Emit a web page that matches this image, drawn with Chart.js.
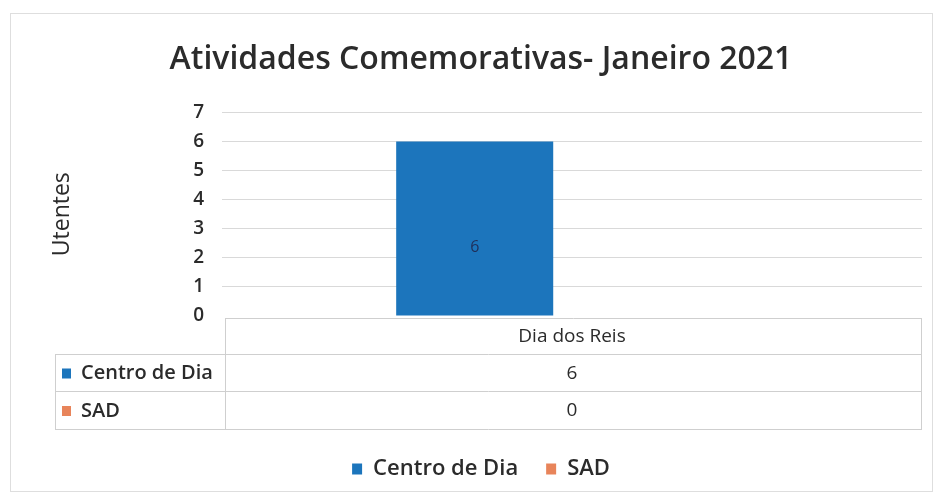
<!DOCTYPE html>
<html>
<head>
<meta charset="utf-8">
<script src="https://cdn.jsdelivr.net/npm/chart.js@4/dist/chart.umd.min.js"></script>
<style>
  html, body { margin: 0; padding: 0; background: #ffffff; }
  canvas { display: block; }
</style>
</head>
<body>
<canvas id="c" width="940" height="501"></canvas>
<script>
const chartTitle = "Atividades Comemorativas- Janeiro 2021";
const yAxisTitle = "Utentes";
const categories = ["Dia dos Reis"];
const seriesNames = ["Centro de Dia", "SAD"];
const centroDeDia = [6];
const sad = [0];
const yTicks = [0, 1, 2, 3, 4, 5, 6, 7];
const seriesColors = ["#1C75BC", "#E8845A"];

const FONT = "'Open Sans', 'Noto Sans', sans-serif";
const TEXT = "#2b2b2b";

const tablePlugin = {
  id: "dataTable",
  afterDraw(chart) {
    const ctx = chart.ctx;
    const xs = chart.scales.x;
    const area = chart.chartArea;
    const left = 55, colX = area.left + 3, right = area.right;
    const top = area.bottom + 2;
    const r1 = top + 36, r2 = r1 + 37, bottom = r2 + 38;
    ctx.save();
    // outer chart border
    ctx.strokeStyle = "#dedede";
    ctx.lineWidth = 1;
    ctx.strokeRect(10.5, 13.5, 922, 478);
    // table lines
    ctx.strokeStyle = "#cfcfcf";
    ctx.beginPath();
    ctx.moveTo(colX, top + 0.5); ctx.lineTo(right, top + 0.5);
    [r1, r2, bottom].forEach(y => { ctx.moveTo(left, y + 0.5); ctx.lineTo(right, y + 0.5); });
    ctx.moveTo(left + 0.5, r1); ctx.lineTo(left + 0.5, bottom);
    ctx.moveTo(colX + 0.5, top); ctx.lineTo(colX + 0.5, bottom);
    ctx.moveTo(right - 0.5, top); ctx.lineTo(right - 0.5, bottom);
    ctx.stroke();
    // header
    ctx.fillStyle = TEXT;
    ctx.textAlign = "center";
    ctx.textBaseline = "middle";
    ctx.font = "19px " + FONT;
    categories.forEach((c, i) => {
      ctx.fillText(c, xs.getPixelForValue(i), (top + r1) / 2 + 1);
    });
    const rows = [[seriesNames[0], centroDeDia, seriesColors[0], r1, r2], [seriesNames[1], sad, seriesColors[1], r2, bottom]];
    rows.forEach(([name, vals, col, y0, y1]) => {
      const cy = (y0 + y1) / 2 + 1;
      ctx.fillStyle = col;
      ctx.fillRect(left + 7, cy - 5, 9, 10);
      ctx.fillStyle = TEXT;
      ctx.textAlign = "left";
      ctx.font = "600 20px " + FONT;
      ctx.fillText(name, left + 26, cy);
      ctx.textAlign = "center";
      ctx.font = "19px " + FONT;
      vals.forEach((v, i) => ctx.fillText(String(v), xs.getPixelForValue(i), cy));
    });
    ctx.restore();
  }
};

const labelPlugin = {
  id: "barLabels",
  afterDatasetsDraw(chart) {
    const ctx = chart.ctx;
    const meta = chart.getDatasetMeta(0);
    ctx.save();
    ctx.fillStyle = "#1f2f5a";
    ctx.font = "16px " + FONT;
    ctx.textAlign = "center";
    ctx.textBaseline = "middle";
    meta.data.forEach((bar, i) => {
      const v = centroDeDia[i];
      if (v > 0) ctx.fillText(String(v), bar.x, bar.y + 0.61 * (bar.base - bar.y));
    });
    ctx.restore();
  }
};

new Chart(document.getElementById("c"), {
  type: "bar",
  data: {
    labels: categories,
    datasets: [
      { label: seriesNames[0], data: centroDeDia, backgroundColor: seriesColors[0], categoryPercentage: 0.556, barPercentage: 0.807 },
      { label: seriesNames[1], data: sad, backgroundColor: seriesColors[1], categoryPercentage: 0.556, barPercentage: 0.807 }
    ]
  },
  options: {
    responsive: false,
    animation: false,
    layout: { padding: { left: 40, right: 18, top: 30, bottom: 11 } },
    plugins: {
      title: {
        display: true,
        text: chartTitle,
        color: TEXT,
        font: { family: FONT, size: 32, weight: "600" },
        padding: { top: 11, bottom: 33 }
      },
      legend: {
        position: "bottom",
        labels: {
          color: TEXT,
          font: { family: FONT, size: 22, weight: "600" },
          boxWidth: 10, boxHeight: 11,
          padding: 28
        }
      },
      tooltip: { enabled: false }
    },
    scales: {
      x: {
        grid: { display: false },
        border: { display: false },
        ticks: { display: false },
        afterFit(scale) { scale.height = 114; }
      },
      y: {
        min: 0, max: 7,
        afterBuildTicks(scale) { scale.ticks = yTicks.map(v => ({ value: v })); },
        grid: {
          color: ctx => ctx.tick && ctx.tick.value === 0 ? "rgba(0,0,0,0)" : "#d9d9d9",
          drawTicks: false
        },
        border: { display: false },
        ticks: {
          color: TEXT,
          font: { family: FONT, size: 19, weight: "600" },
          padding: 18
        },
        title: {
          display: true,
          text: yAxisTitle,
          color: TEXT,
          font: { family: FONT, size: 23 },
          padding: { top: 9, bottom: 0 }
        },
        afterFit(scale) { scale.width = 182; }
      }
    }
  },
  plugins: [tablePlugin, labelPlugin]
});
</script>
</body>
</html>
